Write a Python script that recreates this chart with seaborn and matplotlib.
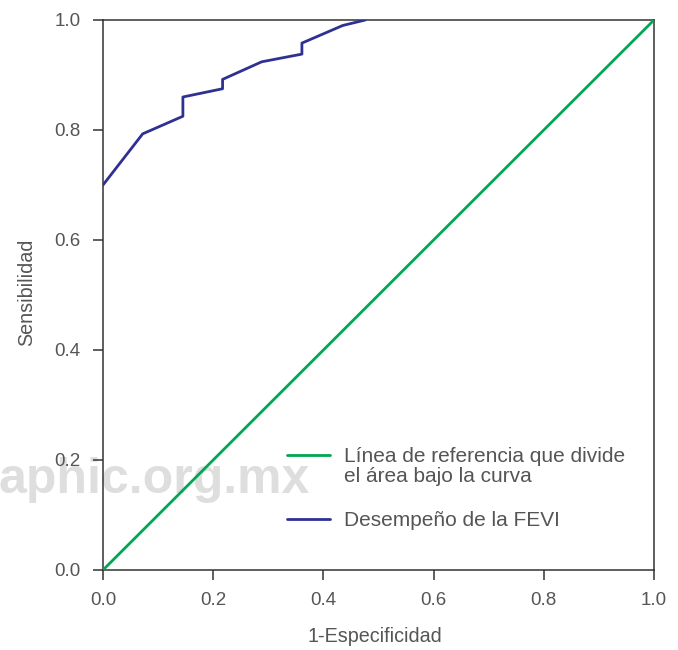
import matplotlib
matplotlib.use("Agg")
import matplotlib.pyplot as plt
import seaborn as sns
import pandas as pd

# Data
ref_x = [0.0, 1.0]
ref_y = [0.0, 1.0]
roc_fpr = [0.0, 0.072, 0.145, 0.145, 0.217, 0.217, 0.288, 0.361, 0.361, 0.435, 0.476]
roc_tpr = [0.700, 0.793, 0.825, 0.860, 0.875, 0.892, 0.924, 0.938, 0.958, 0.990, 1.0]
ticks = [0.0, 0.2, 0.4, 0.6, 0.8, 1.0]
tick_labels = ["0.0", "0.2", "0.4", "0.6", "0.8", "1.0"]
label_ref = "Línea de referencia que divide\nel área bajo la curva"
label_roc = "Desempeño de la FEVI"

sns.set_theme(style="ticks")
plt.rcParams["font.family"] = ["Liberation Sans", "DejaVu Sans"]

W, H = 678, 650
fig = plt.figure(figsize=(W / 100, H / 100), dpi=100)
ax = fig.add_axes([103 / W, (H - 570) / H, (654 - 103) / W, (570 - 20) / H])
ax.patch.set_facecolor("none")

text_grey = "#555555"
green = "#00a651"
blue = "#2e3192"

df_ref = pd.DataFrame({"x": ref_x, "y": ref_y})
df_roc = pd.DataFrame({"x": roc_fpr, "y": roc_tpr})

sns.lineplot(data=df_ref, x="x", y="y", ax=ax, color=green, linewidth=2.0,
             estimator=None, sort=False, label=label_ref, zorder=3)
sns.lineplot(data=df_roc, x="x", y="y", ax=ax, color=blue, linewidth=2.0,
             estimator=None, sort=False, label=label_roc, zorder=3)

ax.set_xlim(0, 1)
ax.set_ylim(0, 1)
ax.set_xticks(ticks)
ax.set_xticklabels(tick_labels)
ax.set_yticks(ticks)
ax.set_yticklabels(tick_labels)

for s in ax.spines.values():
    s.set_visible(True)
    s.set_color("#333333")
    s.set_linewidth(1.1)

ax.tick_params(axis="both", direction="out", length=7, width=1.1, color="#333333",
               labelsize=13.5, labelcolor=text_grey)
ax.tick_params(axis="x", pad=9)
ax.tick_params(axis="y", pad=9)

ax.set_xlabel("1-Especificidad", fontsize=14.2, color=text_grey, labelpad=13)
ax.set_ylabel("Sensibilidad", fontsize=14.2, color=text_grey, labelpad=13)
ax.xaxis.label.set_x((374.5 - 103) / 551)
ax.yaxis.label.set_y((570 - 292.5) / 550)

leg = ax.legend(loc="upper left", bbox_to_anchor=(287 / W, (H - 447) / H),
                bbox_transform=fig.transFigure, frameon=False, fontsize=15,
                handlelength=2.05, handletextpad=0.7, labelspacing=1.2,
                borderpad=0, borderaxespad=0)
for t in leg.get_texts():
    t.set_color(text_grey)
    t.set_linespacing(1.1)
# align the first handle with the first line of its two-line label
h0 = leg.legend_handles[0]
h0.set_ydata([v + 8.5 for v in h0.get_ydata()])

# watermark
ax.text(-2 / W, (H - 493) / H, "aphic.org.mx", transform=fig.transFigure,
        fontsize=36, fontweight="bold", color="#dedede",
        ha="left", va="baseline", zorder=0, clip_on=False)

fig.savefig("out.png", dpi=100)
